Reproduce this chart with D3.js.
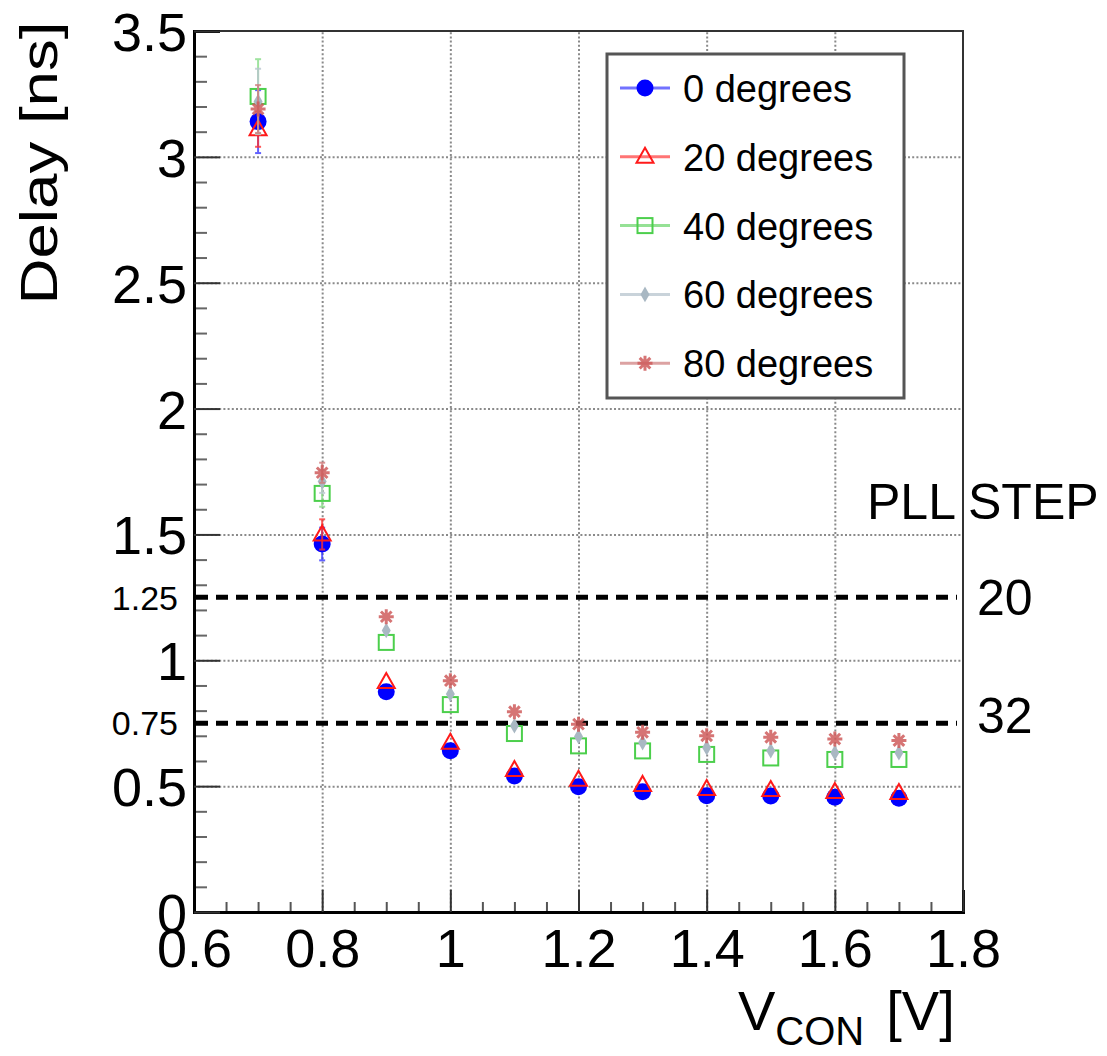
<!DOCTYPE html>
<html>
<head>
<meta charset="utf-8">
<script src="https://cdn.jsdelivr.net/npm/d3@7"></script>
<style>
  body { margin: 0; background: #fff; }
  text { font-family: "Liberation Sans", Arial, Helvetica, sans-serif; fill: #000; }
</style>
</head>
<body>
<div id="chart"></div>
<script>
// data
const vcon = [0.7, 0.8, 0.9, 1.0, 1.1, 1.2, 1.3, 1.4, 1.5, 1.6, 1.7];

const delay0  = [3.14, 1.462, 0.875, 0.641, 0.540, 0.498, 0.478, 0.462, 0.461, 0.456, 0.452];
const delay20 = [3.11, 1.500, 0.914, 0.672, 0.564, 0.525, 0.505, 0.489, 0.485, 0.477, 0.473];
const delay40 = [3.24, 1.663, 1.071, 0.824, 0.709, 0.660, 0.640, 0.626, 0.612, 0.606, 0.606];
const delay60 = [3.22, 1.710, 1.118, 0.866, 0.740, 0.697, 0.673, 0.653, 0.641, 0.633, 0.633];
const delay80 = [3.19, 1.745, 1.173, 0.919, 0.796, 0.746, 0.714, 0.700, 0.694, 0.687, 0.681];

// errors too small to see past the markers are left at 0
const err0  = [0.125, 0.065, 0, 0, 0, 0, 0, 0, 0, 0, 0];
const err20 = [0.070, 0.060, 0, 0, 0, 0, 0, 0, 0, 0, 0];
const err40 = [0.148, 0.053, 0, 0, 0, 0, 0, 0, 0, 0, 0];
const err60 = [0.130, 0.045, 0, 0, 0, 0, 0, 0, 0, 0, 0];
const err80 = [0.095, 0.040, 0, 0, 0, 0, 0, 0, 0, 0, 0];

const seriesLabels = ["0 degrees", "20 degrees", "40 degrees", "60 degrees", "80 degrees"];

const xTicks = [0.6, 0.8, 1.0, 1.2, 1.4, 1.6, 1.8];
const yTicks = [0, 0.5, 1, 1.5, 2, 2.5, 3, 3.5];
const pllDelays = [1.25, 0.75];
const pllSteps = ["20", "32"];

// styling
const width = 1107, height = 1056;
const margin = { top: 31, right: 144, bottom: 144, left: 194 };
const innerW = width - margin.left - margin.right;
const innerH = height - margin.top - margin.bottom;

const styles = [
  { shape: "circle",   color: "#0000ff", line: "#7272ff", errColor: "#3a3aff" },
  { shape: "triangle", color: "#ff1a1a", line: "#ff7474", errColor: "#ff3030" },
  { shape: "square",   color: "#4ccf4c", line: "#95e195", errColor: "#88dd88" },
  { shape: "diamond",  color: "#a9b8c3", line: "#c9d3da", errColor: "#b9c6cf" },
  { shape: "star",     color: "#cf5c5c", line: "#dca2a2", errColor: "#d07a7a" }
];
const pllOffsets = [18, 10];

const errs = [err0, err20, err40, err60, err80];
const series = [delay0, delay20, delay40, delay60, delay80].map((vals, i) => ({
  label: seriesLabels[i],
  style: styles[i],
  points: vals.map((v, j) => ({ x: vcon[j], y: v, e: errs[i][j] }))
}));

const svg = d3.select("#chart").append("svg")
  .attr("width", width)
  .attr("height", height);

const g = svg.append("g")
  .attr("transform", `translate(${margin.left},${margin.top})`);

const x = d3.scaleLinear().domain([0.6, 1.8]).range([0, innerW]);
const y = d3.scaleLinear().domain([0, 3.5]).range([innerH, 0]);

// dotted grid
g.append("g")
  .attr("transform", `translate(0,${innerH})`)
  .call(d3.axisBottom(x).tickValues(xTicks.slice(1, -1)).tickSize(-innerH).tickFormat(""))
  .call(a => a.select(".domain").remove())
  .call(a => a.selectAll("line").attr("stroke", "#8a8a8a").attr("stroke-width", 2).attr("stroke-dasharray", "2,2.2"));

g.append("g")
  .call(d3.axisLeft(y).tickValues(yTicks.slice(1, -1)).tickSize(-innerW).tickFormat(""))
  .call(a => a.select(".domain").remove())
  .call(a => a.selectAll("line").attr("stroke", "#8a8a8a").attr("stroke-width", 2).attr("stroke-dasharray", "2,2.2"));

// frame
g.append("rect")
  .attr("width", innerW)
  .attr("height", innerH)
  .attr("fill", "none")
  .attr("stroke", "#333")
  .attr("stroke-width", 2);

// minor ticks
const xMinor = d3.range(0.65, 1.8, 0.05).filter(v => Math.abs(v / 0.2 - Math.round(v / 0.2)) > 0.01);
const yMinor = d3.range(0.1, 3.5, 0.1).filter(v => Math.abs(v / 0.5 - Math.round(v / 0.5)) > 0.01);

g.append("g")
  .attr("transform", `translate(0,${innerH})`)
  .call(d3.axisBottom(x).tickValues(xMinor).tickSize(-10).tickFormat(""))
  .call(a => a.select(".domain").remove())
  .call(a => a.selectAll("line").attr("stroke", "#555").attr("stroke-width", 2));

g.append("g")
  .call(d3.axisLeft(y).tickValues(yMinor).tickSize(-13).tickFormat(""))
  .call(a => a.select(".domain").remove())
  .call(a => a.selectAll("line").attr("stroke", "#666").attr("stroke-width", 2));

// major axes with labels
g.append("g")
  .attr("transform", `translate(0,${innerH})`)
  .call(d3.axisBottom(x).tickValues(xTicks).tickSize(-22).tickFormat(d3.format("~g")))
  .call(a => a.select(".domain").attr("stroke", "#000").attr("stroke-width", 3))
  .call(a => a.selectAll("line").attr("stroke", "#333").attr("stroke-width", 2))
  .call(a => a.selectAll("text")
    .attr("y", 55).attr("dy", null)
    .attr("font-size", 54)
    .attr("font-family", "Liberation Sans, Arial, sans-serif")
    .attr("fill", "#000"));

g.append("g")
  .call(d3.axisLeft(y).tickValues(yTicks).tickSize(-26).tickPadding(7).tickFormat(d3.format("~g")))
  .call(a => a.select(".domain").attr("stroke", "#000").attr("stroke-width", 3))
  .call(a => a.selectAll("line").attr("stroke", "#333").attr("stroke-width", 2))
  .call(a => a.selectAll("text")
    .attr("dy", "0.36em")
    .attr("font-size", 54)
    .attr("font-family", "Liberation Sans, Arial, sans-serif")
    .attr("fill", "#000"));

// PLL step lines
g.selectAll("line.pll")
  .data(pllDelays)
  .join("line")
  .attr("class", "pll")
  .attr("x1", 2)
  .attr("x2", innerW - 6)
  .attr("y1", d => y(d))
  .attr("y2", d => y(d))
  .attr("stroke", "#000")
  .attr("stroke-width", 5)
  .attr("stroke-dasharray", "12,8");

g.selectAll("text.pll-val")
  .data(pllDelays)
  .join("text")
  .attr("class", "pll-val")
  .attr("x", -16)
  .attr("y", d => y(d))
  .attr("dy", "0.36em")
  .attr("text-anchor", "end")
  .attr("font-size", 34)
  .text(d => d);

g.selectAll("text.pll-step")
  .data(pllSteps)
  .join("text")
  .attr("class", "pll-step")
  .attr("x", innerW + 14)
  .attr("y", (d, i) => y(pllDelays[i]) + pllOffsets[i])
  .attr("font-size", 50)
  .text(d => d);

svg.append("text")
  .attr("x", 867)
  .attr("y", 519)
  .attr("font-size", 50)
  .text("PLL STEP");

// markers
function starPath(r) {
  let p = "";
  for (let k = 0; k < 4; k++) {
    const a = k * Math.PI / 4;
    const cx = Math.cos(a) * r, cy = Math.sin(a) * r;
    p += `M${cx},${cy}L${-cx},${-cy}`;
  }
  return p;
}

function drawMarker(sel, style) {
  if (style.shape === "circle") {
    sel.append("circle").attr("r", 8.5).attr("fill", style.color);
  } else if (style.shape === "triangle") {
    sel.append("path")
      .attr("d", "M0,-9L8.5,6L-8.5,6Z")
      .attr("fill", "none").attr("stroke", style.color).attr("stroke-width", 2);
  } else if (style.shape === "square") {
    sel.append("rect")
      .attr("x", -7.5).attr("y", -7.5).attr("width", 15).attr("height", 15)
      .attr("fill", "none").attr("stroke", style.color).attr("stroke-width", 2);
  } else if (style.shape === "diamond") {
    sel.append("path")
      .attr("d", d3.symbol(d3.symbolDiamond, 70)())
      .attr("fill", style.color);
  } else {
    sel.append("path")
      .attr("d", starPath(7.5))
      .attr("stroke", style.color).attr("stroke-width", 3).attr("opacity", 0.85);
  }
}

series.forEach(s => {
  const sg = g.append("g");
  // error bars (only where they stick out of the marker)
  const eb = sg.selectAll("g.err")
    .data(s.points.filter(d => d.e > 0))
    .join("g")
    .attr("class", "err")
    .attr("stroke", s.style.errColor)
    .attr("stroke-width", 2)
    .attr("opacity", 0.8);
  eb.append("line")
    .attr("x1", d => x(d.x)).attr("x2", d => x(d.x))
    .attr("y1", d => y(d.y - d.e)).attr("y2", d => y(d.y + d.e));
  eb.append("line")
    .attr("x1", d => x(d.x) - 3).attr("x2", d => x(d.x) + 3)
    .attr("y1", d => y(d.y - d.e)).attr("y2", d => y(d.y - d.e));
  eb.append("line")
    .attr("x1", d => x(d.x) - 3).attr("x2", d => x(d.x) + 3)
    .attr("y1", d => y(d.y + d.e)).attr("y2", d => y(d.y + d.e));

  sg.selectAll("g.pt")
    .data(s.points)
    .join("g")
    .attr("class", "pt")
    .attr("transform", d => `translate(${x(d.x)},${y(d.y)})`)
    .each(function() { drawMarker(d3.select(this), s.style); });
});

// legend
const legend = svg.append("g").attr("transform", "translate(607,54)");
legend.append("rect")
  .attr("width", 297)
  .attr("height", 344)
  .attr("fill", "#fff")
  .attr("stroke", "#555")
  .attr("stroke-width", 3);

series.forEach((s, i) => {
  const row = legend.append("g").attr("transform", `translate(0,${34 + i * 68.8})`);
  row.append("line")
    .attr("x1", 13).attr("x2", 63)
    .attr("stroke", s.style.line)
    .attr("stroke-width", 3);
  drawMarker(row.append("g").attr("transform", "translate(38,0)"), s.style);
  row.append("text")
    .attr("x", 76)
    .attr("y", 14)
    .attr("font-size", 38)
    .text(s.label);
});

// axis titles
svg.append("text")
  .attr("transform", "translate(57,163) rotate(-90)")
  .attr("text-anchor", "middle")
  .attr("font-size", 52)
  .attr("textLength", 283)
  .attr("lengthAdjust", "spacingAndGlyphs")
  .text("Delay [ns]");

const xt = svg.append("text")
  .attr("x", 738)
  .attr("y", 1030);
xt.append("tspan").attr("font-size", 56).text("V");
xt.append("tspan").attr("font-size", 40).attr("dy", 15).text("CON");
xt.append("tspan").attr("font-size", 56).attr("dy", -15).attr("dx", 22).text("[V]");
</script>
</body>
</html>
